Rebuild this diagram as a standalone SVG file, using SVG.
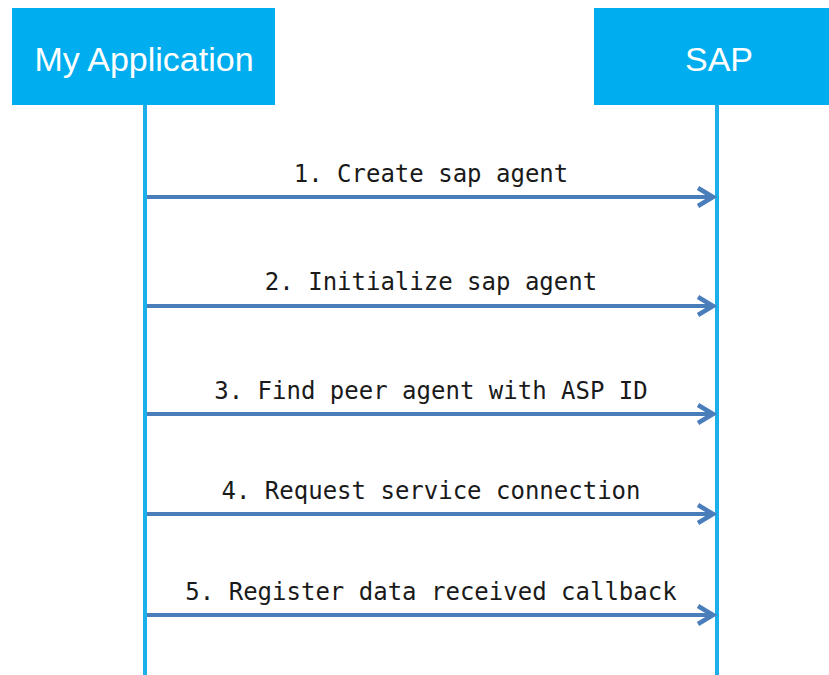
<svg xmlns="http://www.w3.org/2000/svg" width="829" height="675" viewBox="0 0 829 675">
  <style>
    .head { fill: #00AEEF; }
    .head-text { font-family: "Liberation Sans", Arial, sans-serif; font-size: 34px; fill: #FFFFFF; text-anchor: middle; }
    .lifeline { stroke: #1BB0EC; stroke-width: 4; fill: none; }
    .msg { stroke: #4A7EBB; stroke-width: 4; fill: none; }
    .msg-label { font-family: "DejaVu Sans Mono", "Liberation Mono", monospace; font-size: 24px; fill: #1a1a1a; text-anchor: middle; }
  </style>
  <defs>
    <marker id="open-arrow" markerUnits="userSpaceOnUse" markerWidth="24" markerHeight="24" viewBox="-20 -12 24 24" refX="0" refY="0" orient="auto">
      <path d="M-15,-9 L0,0 L-15,9" fill="none" stroke="#4A7EBB" stroke-width="4.5" stroke-linejoin="miter"/>
    </marker>
  </defs>
  <rect width="829" height="675" fill="#FFFFFF"/>

  <g id="my-application">
    <rect class="head" x="12" y="8" width="263" height="97"/>
    <text class="head-text" x="144" y="71">My Application</text>
    <line class="lifeline" x1="145" y1="105" x2="145" y2="675"/>
  </g>

  <g id="sap">
    <rect class="head" x="594" y="8" width="235" height="97"/>
    <text class="head-text" x="719" y="71">SAP</text>
    <line class="lifeline" x1="717" y1="105" x2="717" y2="675"/>
  </g>

  <g id="messages">
    <line class="msg" x1="147" y1="197" x2="713" y2="197" marker-end="url(#open-arrow)"/>
    <text class="msg-label" x="431" y="182">1. Create sap agent</text>

    <line class="msg" x1="147" y1="306" x2="713" y2="306" marker-end="url(#open-arrow)"/>
    <text class="msg-label" x="431" y="290">2. Initialize sap agent</text>

    <line class="msg" x1="147" y1="414" x2="713" y2="414" marker-end="url(#open-arrow)"/>
    <text class="msg-label" x="431" y="399">3. Find peer agent with ASP ID</text>

    <line class="msg" x1="147" y1="514" x2="713" y2="514" marker-end="url(#open-arrow)"/>
    <text class="msg-label" x="431" y="499">4. Request service connection</text>

    <line class="msg" x1="147" y1="615" x2="713" y2="615" marker-end="url(#open-arrow)"/>
    <text class="msg-label" x="431" y="600">5. Register data received callback</text>
  </g>
</svg>
